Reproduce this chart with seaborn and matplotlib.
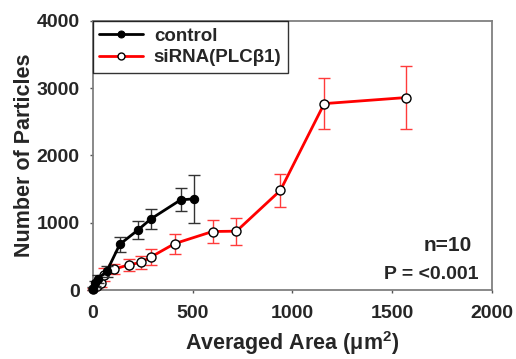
import matplotlib
matplotlib.use("Agg")
import matplotlib.pyplot as plt
import seaborn as sns
import pandas as pd
import numpy as np

# ---- data ----
ctrl_x = [0, 10, 25, 70, 135, 225, 290, 440, 505]
ctrl_y = [20, 100, 170, 280, 680, 890, 1055, 1340, 1355]
ctrl_err = [20, 40, 60, 80, 110, 135, 155, 170, 355]

si_x = [0, 20, 40, 55, 105, 180, 240, 290, 410, 600, 720, 940, 1160, 1570]
si_y = [15, 60, 110, 230, 310, 375, 410, 490, 690, 870, 875, 1480, 2770, 2860]
si_err = [15, 40, 70, 100, 75, 90, 90, 117, 150, 177, 200, 246, 380, 470]

labels = ["control", "siRNA(PLC\u03b21)"]
x_ticks = [0, 500, 1000, 1500, 2000]
y_ticks = [0, 1000, 2000, 3000, 4000]

sns.set_theme(style="white")
plt.rcParams["font.family"] = ["Liberation Sans", "DejaVu Sans"]
plt.rcParams["font.weight"] = "bold"
plt.rcParams["mathtext.fontset"] = "custom"
plt.rcParams["mathtext.rm"] = "Liberation Sans:bold"
plt.rcParams["mathtext.it"] = "Liberation Sans:bold"
plt.rcParams["mathtext.bf"] = "Liberation Sans:bold"

fig = plt.figure(figsize=(5.16, 3.59), dpi=100)
ax = fig.add_axes([0.180, 0.192, 0.773, 0.750])

df_c = pd.DataFrame({"x": ctrl_x, "y": ctrl_y})
df_s = pd.DataFrame({"x": si_x, "y": si_y})

# error bars
ax.errorbar(si_x, si_y, yerr=si_err, fmt="none", ecolor="#ff3b3b", elinewidth=1.0,
            capsize=4, capthick=1.0, zorder=2, clip_on=False)
ax.errorbar(ctrl_x, ctrl_y, yerr=ctrl_err, fmt="none", ecolor="#333333", elinewidth=1.0,
            capsize=4, capthick=1.0, zorder=4, clip_on=False)

sns.lineplot(data=df_s, x="x", y="y", ax=ax, sort=False, color="#ff0000", linewidth=2,
             marker="o", markersize=6.5, markerfacecolor="white", markeredgecolor="black",
             markeredgewidth=1.0, label=labels[1], zorder=3, clip_on=False)
sns.lineplot(data=df_c, x="x", y="y", ax=ax, sort=False, color="black", linewidth=2,
             marker="o", markersize=6, markerfacecolor="black", markeredgecolor="black",
             label=labels[0], zorder=5, clip_on=False)

ax.set_xlim(0, 2000)
ax.set_ylim(0, 4000)
ax.set_xticks(x_ticks)
ax.set_yticks(y_ticks)
ax.set_xticklabels([str(t) for t in x_ticks], fontsize=14, fontweight="bold")
ax.set_yticklabels([str(t) for t in y_ticks], fontsize=14, fontweight="bold")
ax.tick_params(axis="y", direction="out", length=2.5, width=1, color="#555555", pad=7, left=True)
ax.tick_params(axis="x", direction="out", length=2.5, width=1, color="#555555", pad=8, bottom=True)
for s in ax.spines.values():
    s.set_color("#808080")
    s.set_linewidth(1.3)

ax.set_xlabel("Averaged Area (\u03bcm$^{2}$)", fontsize=15.5, fontweight="bold", labelpad=5.5)
ax.set_ylabel("Number of Particles", fontsize=15.5, fontweight="bold", labelpad=1)

handles, labs = ax.get_legend_handles_labels()
order = [labs.index(labels[0]), labs.index(labels[1])]
leg = ax.legend([handles[i] for i in order], [labs[i] for i in order],
                loc="upper left", bbox_to_anchor=(0.0, 1.0), frameon=True, fancybox=False,
                prop={"weight": "bold", "size": 13.5, "family": "Liberation Sans"},
                handlelength=2.3, borderpad=0.35, labelspacing=0.25, borderaxespad=0.0,
                handletextpad=0.6)
leg.get_frame().set_edgecolor("black")
leg.get_frame().set_linewidth(1.0)
for h in leg.legend_handles:
    h.set_markersize(5)

ax.text(0.951, 0.167, "n=10", transform=ax.transAxes, ha="right", va="center",
        fontsize=15, fontweight="bold")
ax.text(0.966, 0.056, "P = <0.001", transform=ax.transAxes, ha="right", va="center",
        fontsize=14, fontweight="bold")

fig.savefig("out.png", dpi=100)
